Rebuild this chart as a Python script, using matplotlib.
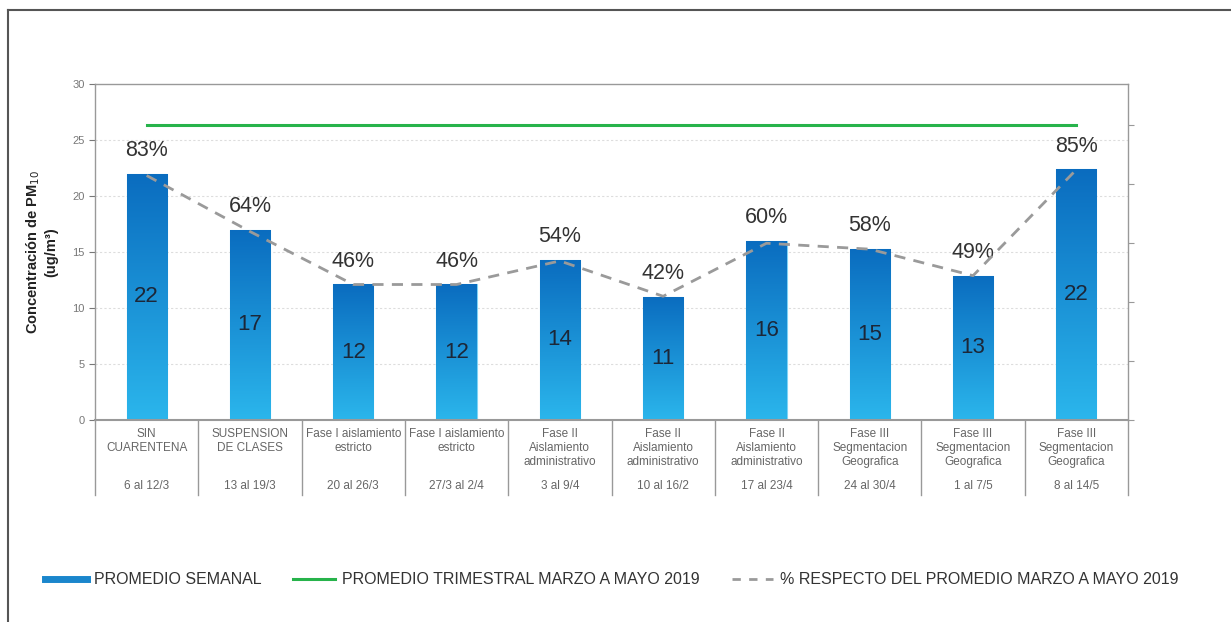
import matplotlib
matplotlib.use("Agg")
import matplotlib.pyplot as plt
import numpy as np
from matplotlib.lines import Line2D
from matplotlib.colors import LinearSegmentedColormap

plt.rcParams['font.family'] = ['Liberation Sans', 'DejaVu Sans']

# ---- data ----
categories = ["SIN\nCUARENTENA", "SUSPENSION\nDE CLASES", "Fase I aislamiento\nestricto",
              "Fase I aislamiento\nestricto", "Fase II\nAislamiento\nadministrativo",
              "Fase II\nAislamiento\nadministrativo", "Fase II\nAislamiento\nadministrativo",
              "Fase III\nSegmentacion\nGeografica", "Fase III\nSegmentacion\nGeografica",
              "Fase III\nSegmentacion\nGeografica"]
dates = ["6 al 12/3", "13 al 19/3", "20 al 26/3", "27/3 al 2/4", "3 al 9/4",
         "10 al 16/2", "17 al 23/4", "24 al 30/4", "1 al 7/5", "8 al 14/5"]
weekly = [22.0, 17.0, 12.1, 12.1, 14.3, 11.0, 16.0, 15.3, 12.9, 22.4]
weekly_labels = ["22", "17", "12", "12", "14", "11", "16", "15", "13", "22"]
pct = [83, 64, 46, 46, 54, 42, 60, 58, 49, 85]
trimestral = 26.3

W, H = 1231, 622
fig = plt.figure(figsize=(W / 100, H / 100), dpi=100)
fig.patch.set_facecolor('white')

# frame lines (top and left)
fig.add_artist(Line2D([8 / W, 1.0], [1 - 10 / H, 1 - 10 / H], color='#555555', lw=1.5))
fig.add_artist(Line2D([8 / W, 8 / W], [0, 1 - 10 / H], color='#555555', lw=1.5))

L, R, T, B = 95, 1128, 84, 420
ax = fig.add_axes([L / W, 1 - B / H, (R - L) / W, (B - T) / H])
x = np.arange(len(weekly))

bw = 0.39
cmap = LinearSegmentedColormap.from_list('b', ['#2bb6ec', '#0a6cbf'])
bars = ax.bar(x, weekly, width=bw, color='#1a86cc', edgecolor='#7fd3f5', linewidth=0.8, zorder=2)
grad = np.linspace(0, 1, 256).reshape(-1, 1)
for b in bars:
    bx = b.get_x()
    im = ax.imshow(grad, cmap=cmap, origin='lower', aspect='auto',
                   extent=[bx, bx + b.get_width(), 0, b.get_height()], zorder=2.5)
    im.set_clip_path(b)
ax.set_xlim(-0.5, len(weekly) - 0.5)
ax.set_ylim(0, 30)

ax.set_yticks(np.arange(0, 31, 5))
ax.tick_params(axis='y', labelsize=8, colors='#777777', length=4, direction='out')
ax.set_xticks([])
for s in ax.spines.values():
    s.set_color('#999999')
    s.set_linewidth(1.0)
ax.spines['bottom'].set_linewidth(1.5)
for yv in range(5, 30, 5):
    ax.axhline(yv, color='#dddddd', lw=0.8, ls=(0, (2, 2)), zorder=0)

# trimestral line
ax.plot([0, len(weekly) - 1], [trimestral, trimestral], color='#27b34b', lw=2.2, zorder=3)

# twin axis for percentages
ax2 = ax.twinx()
ax2.set_ylim(0, 30 / trimestral * 100)
ax2.set_yticks(np.arange(0, 101, 20))
ax2.set_yticklabels([])
ax2.tick_params(axis='y', colors='#999999', length=4)
for s in ax2.spines.values():
    s.set_visible(False)
ax2.plot(x, pct, color='#9a9a9a', lw=2, ls=(0, (4, 3)), zorder=4)

for xi, v, lab, p in zip(x, weekly, weekly_labels, pct):
    ax.text(xi, v / 2, lab, ha='center', va='center', fontsize=16, color='#1c2738', zorder=5)
    ax.annotate(f"{p}%", (xi, v), xytext=(0, 16.5), textcoords='offset points',
                ha='center', va='center', fontsize=15.5, color='#333333', zorder=5)

# category labels
xt = ax.get_xaxis_transform()
def yfrac(py):
    return (B - py) / (B - T)
for xi, c, d in zip(x, categories, dates):
    ax.text(xi, yfrac(428), c, transform=xt, ha='center', va='top', fontsize=8.5,
            color='#666666', linespacing=1.2)
    ax.text(xi, yfrac(486), d, transform=xt, ha='center', va='center', fontsize=8.5,
            color='#666666')
for k in range(len(weekly) + 1):
    ax.plot([k - 0.5, k - 0.5], [0, yfrac(495)], transform=xt, color='#999999',
            lw=1, clip_on=False)

ax.set_ylabel("Concentración de PM$_{10}$\n(ug/m³)", fontsize=10.5, fontweight='bold',
              color='#222222', labelpad=10)

handles = [Line2D([], [], color='#1a86cc', lw=5),
           Line2D([], [], color='#27b34b', lw=2.2),
           Line2D([], [], color='#9a9a9a', lw=2, ls=(0, (3, 3)))]
labels = ["PROMEDIO SEMANAL", "PROMEDIO TRIMESTRAL MARZO A MAYO 2019",
          "% RESPECTO DEL PROMEDIO MARZO A MAYO 2019"]
fig.legend(handles, labels, loc='center', bbox_to_anchor=(612 / W, 1 - 580 / H), ncol=3,
           frameon=False, fontsize=11.5, handlelength=2.6, columnspacing=2.0,
           labelcolor='#333333', handletextpad=0.45)

fig.savefig('out.png', dpi=100, facecolor='white')
